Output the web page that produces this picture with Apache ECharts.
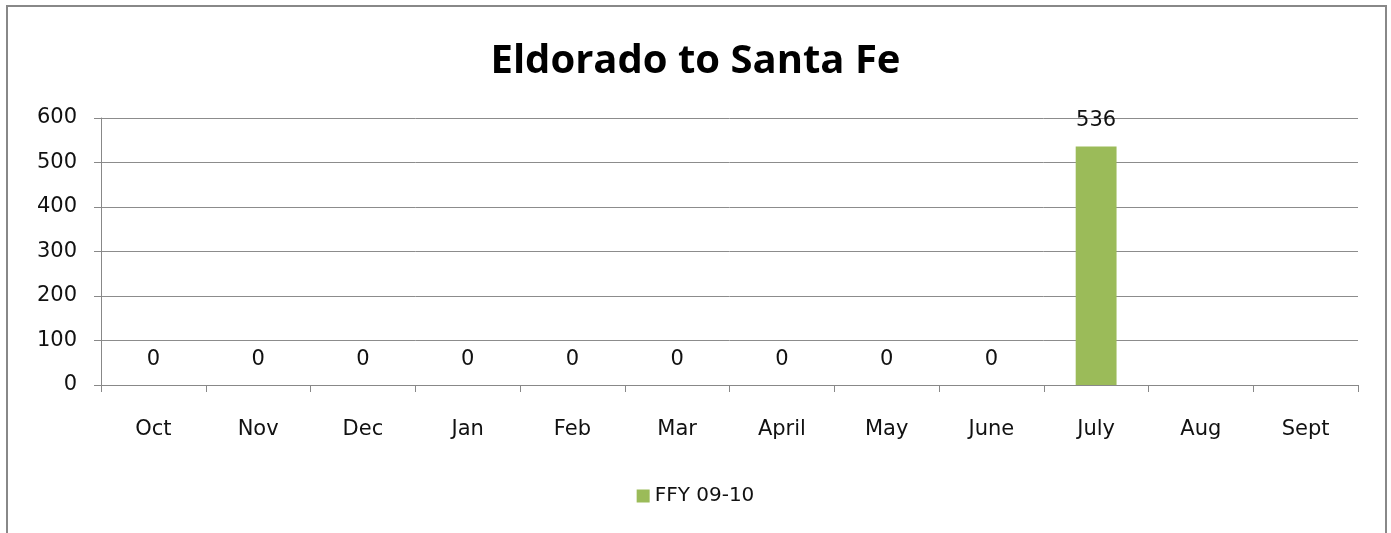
<!DOCTYPE html>
<html lang="en">
<head>
    <meta charset="UTF-8">
    <title>Eldorado to Santa Fe</title>
    <script src="https://cdn.jsdelivr.net/npm/echarts@6/dist/echarts.min.js"></script>
    <style>
        body { margin: 0; overflow: hidden; background: #fff; }
        #frame { position: absolute; left: 6px; top: 5px; width: 1377px; height: 600px; border: 2px solid #888; }
        #main { position: absolute; left: 0; top: 0; width: 1391px; height: 533px; }
    </style>
</head>
<body>
    <div id="frame"></div>
    <div id="main"></div>
    <script>
        var months = ['Oct', 'Nov', 'Dec', 'Jan', 'Feb', 'Mar', 'April', 'May', 'June', 'July', 'Aug', 'Sept'];
        var ffy0910 = [0, 0, 0, 0, 0, 0, 0, 0, 0, 536, null, null];
        var seriesName = 'FFY 09-10';

        var titleFont = '"Open Sans", "DejaVu Sans", sans-serif';
        var fontFam = '"DejaVu Sans", sans-serif';
        var myCharts = echarts.init(document.getElementById('main'));
        var option = {
            backgroundColor: 'transparent',
            animation: false,
            title: {
                text: 'Eldorado to Santa Fe',
                left: 'center',
                top: 37,
                textStyle: { fontFamily: titleFont, fontSize: 40, fontWeight: 'bold', color: '#000' }
            },
            legend: {
                bottom: 22,
                left: 'center',
                itemWidth: 13,
                itemHeight: 13,
                icon: 'rect',
                textStyle: { fontFamily: fontFam, fontSize: 20, color: '#111' },
                data: [seriesName]
            },
            grid: { left: 101, right: 33, top: 118, bottom: 148 },
            xAxis: {
                type: 'category',
                data: months,
                axisLine: { lineStyle: { color: '#888', width: 1 } },
                axisTick: { show: true, length: 7, lineStyle: { color: '#888' } },
                axisLabel: { margin: 34, fontFamily: fontFam, fontSize: 21, color: '#111' }
            },
            yAxis: {
                type: 'value',
                min: 0,
                max: 600,
                interval: 100,
                axisLine: { show: true, lineStyle: { color: '#888', width: 1 } },
                axisTick: { show: true, length: 7, lineStyle: { color: '#888' } },
                axisLabel: { margin: 24, padding: [4, 0, 0, 0], fontFamily: fontFam, fontSize: 21, color: '#111' },
                splitLine: { lineStyle: { color: '#8c8c8c', width: 1 } }
            },
            series: [{
                name: seriesName,
                type: 'bar',
                data: ffy0910,
                barWidth: '39%',
                itemStyle: { color: '#9BBB59' },
                label: {
                    show: true,
                    position: 'top',
                    distance: 15,
                    fontFamily: fontFam,
                    fontSize: 21,
                    color: '#111'
                }
            }]
        };
        myCharts.setOption(option, true);
    </script>
</body>
</html>
